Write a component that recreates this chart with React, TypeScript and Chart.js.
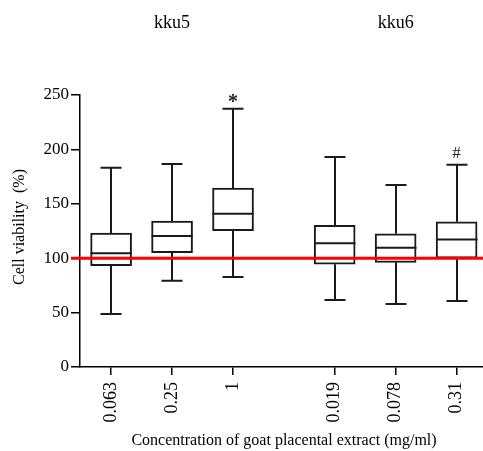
import React, { useEffect, useRef } from "react";
import { Chart, registerables } from "chart.js";

Chart.register(...registerables);

const categories = ["0.063", "0.25", "1", "0.019", "0.078", "0.31"];
const groups = ["kku5", "kku6"];
const groupOf = [0, 0, 0, 1, 1, 1];
const minVal = [48.7, 79.3, 82.7, 61.6, 57.9, 60.7];
const q1 = [93.1, 105.1, 125.3, 94.4, 96.2, 100.0];
const median = [104.5, 120.4, 140.9, 113.7, 109.7, 117.3];
const q3 = [123.1, 134.2, 164.5, 130.2, 122.5, 133.5];
const maxVal = [183.2, 186.6, 237.4, 193.0, 167.3, 186.0];
const markers = ["", "", "*", "", "", "#"];
const referenceValue = 100;
const yTicks = [0, 50, 100, 150, 200, 250];

// layout: slot positions on the x axis (gap between the two cell lines)
const slotPositions = [1, 2, 3, 4.667, 5.667, 6.667];

const FONT = "'Liberation Serif', 'Times New Roman', serif";

const boxPlugin = {
  id: "boxExtras",
  afterDatasetsDraw(chart: any) {
    const ctx = chart.ctx;
    const xs = chart.scales.x;
    const ys = chart.scales.y;
    const area = chart.chartArea;
    const boxW = 41;
    const capW = 21;
    ctx.save();
    ctx.strokeStyle = "#1a1a1a";
    ctx.lineWidth = 2;
    ctx.lineCap = "butt";
    for (let i = 0; i < categories.length; i++) {
      const cx = Math.round(xs.getPixelForValue(slotPositions[i]));
      const yMin = ys.getPixelForValue(minVal[i]);
      const yQ1 = ys.getPixelForValue(q1[i]);
      const yMed = ys.getPixelForValue(median[i]);
      const yQ3 = ys.getPixelForValue(q3[i]);
      const yMax = ys.getPixelForValue(maxVal[i]);
      ctx.beginPath();
      ctx.moveTo(cx, yQ3);
      ctx.lineTo(cx, yMax);
      ctx.moveTo(cx - capW / 2, yMax);
      ctx.lineTo(cx + capW / 2, yMax);
      ctx.moveTo(cx, yQ1);
      ctx.lineTo(cx, yMin);
      ctx.moveTo(cx - capW / 2, yMin);
      ctx.lineTo(cx + capW / 2, yMin);
      ctx.moveTo(cx - boxW / 2, yMed);
      ctx.lineTo(cx + boxW / 2, yMed);
      ctx.stroke();
    }
    // reference line
    const yRef = ys.getPixelForValue(referenceValue);
    ctx.strokeStyle = "#ff0000";
    ctx.lineWidth = 3;
    ctx.beginPath();
    ctx.moveTo(area.left - 9, yRef);
    ctx.lineTo(chart.width, yRef);
    ctx.stroke();

    // markers
    ctx.fillStyle = "#222";
    ctx.textAlign = "center";
    ctx.textBaseline = "bottom";
    for (let i = 0; i < categories.length; i++) {
      if (!markers[i]) continue;
      const cx = xs.getPixelForValue(slotPositions[i]);
      const yMax = ys.getPixelForValue(maxVal[i]);
      ctx.font = markers[i] === "*" ? `bold 20px ${FONT}` : `17px ${FONT}`;
      ctx.fillText(markers[i], cx, yMax - (markers[i] === "*" ? -4 : 3));
    }

    // group titles
    ctx.fillStyle = "#000";
    ctx.font = `18px ${FONT}`;
    ctx.textBaseline = "middle";
    for (let g = 0; g < groups.length; g++) {
      const pos = slotPositions.filter((_, i) => groupOf[i] === g);
      const c = pos.reduce((a, b) => a + b, 0) / pos.length;
      ctx.fillText(groups[g], xs.getPixelForValue(c), 23);
    }

    // axis titles
    ctx.font = `16px ${FONT}`;
    ctx.fillText(
      "Concentration of goat placental extract (mg/ml)",
      284,
      441
    );
    ctx.save();
    ctx.translate(20, (area.top + area.bottom) / 2 - 4);
    ctx.rotate(-Math.PI / 2);
    ctx.fillText("Cell viability  (%)", 0, 0);
    ctx.restore();
    ctx.restore();
  },
};

export default function App() {
  const ref = useRef<HTMLCanvasElement | null>(null);
  useEffect(() => {
    document.body.style.margin = "0";
    const chart = new Chart(ref.current as HTMLCanvasElement, {
      type: "bar",
      data: {
        datasets: [
          {
            data: categories.map((_, i) => ({
              x: slotPositions[i],
              y: [q1[i], q3[i]],
            })) as any,
            backgroundColor: "#ffffff",
            borderColor: "#1a1a1a",
            borderWidth: 2,
            borderSkipped: false,
            barThickness: 41,
          },
        ],
      },
      options: {
        animation: false,
        responsive: true,
        maintainAspectRatio: false,
        layout: { padding: { top: 95, right: 0, left: 0, bottom: 0 } },
        plugins: { legend: { display: false }, tooltip: { enabled: false } },
        scales: {
          x: {
            type: "linear",
            min: 0.49,
            max: 7.1,
            offset: false,
            afterBuildTicks: (scale: any) => {
              scale.ticks = slotPositions.map((v) => ({ value: v }));
            },
            afterFit: (scale: any) => {
              scale.height = 84;
              scale.paddingRight = 0;
              scale.paddingLeft = 0;
            },
            ticks: {
              autoSkip: false,
              minRotation: 90,
              maxRotation: 90,
              padding: 7,
              color: "#000",
              font: { family: FONT, size: 18 },
              callback: (_v: any, i: number) => categories[i],
            },
            grid: {
              display: true,
              offset: false,
              drawOnChartArea: false,
              drawTicks: true,
              tickLength: 8,
              color: "#000",
              lineWidth: 1.5,
            },
            border: { display: true, color: "#000", width: 1.5 },
          },
          y: {
            min: 0,
            max: 250,
            afterBuildTicks: (scale: any) => {
              scale.ticks = yTicks.map((v) => ({ value: v }));
            },
            afterFit: (scale: any) => {
              scale.width = 80;
            },
            ticks: {
              padding: 2,
              color: "#000",
              font: { family: FONT, size: 17 },
            },
            grid: {
              display: true,
              offset: false,
              drawOnChartArea: false,
              drawTicks: true,
              tickLength: 9,
              color: "#000",
              lineWidth: 1.5,
            },
            border: { display: true, color: "#000", width: 1.5 },
          },
        },
      },
      plugins: [boxPlugin],
    });
    return () => chart.destroy();
  }, []);
  return (
    <div style={{ position: "absolute", left: 0, top: 0, width: 483, height: 451 }}>
      <canvas ref={ref} />
    </div>
  );
}
